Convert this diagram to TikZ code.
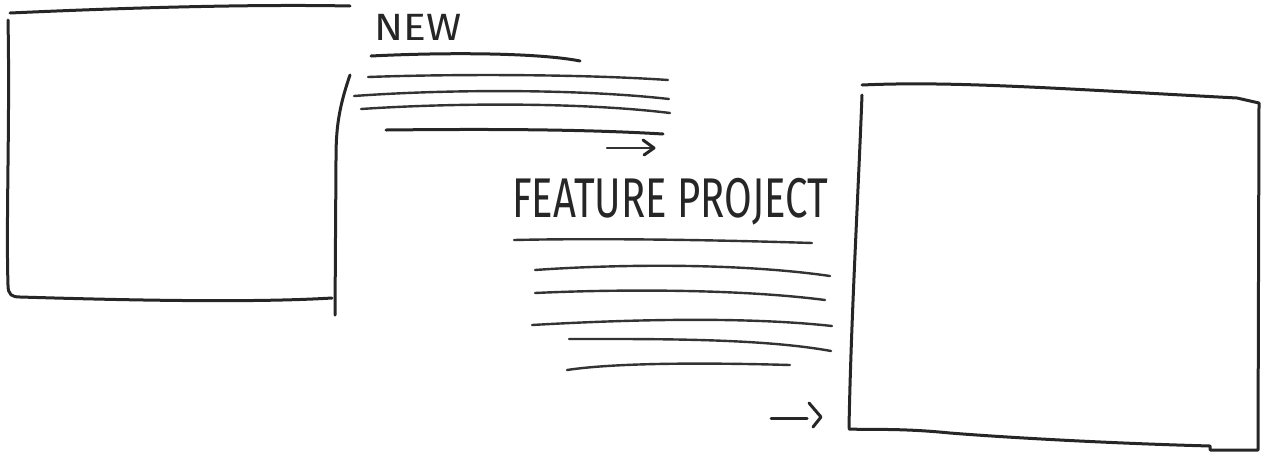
\documentclass[tikz,border=0pt]{standalone}
\usepackage{fontspec}
\setmainfont{Fira Sans}
\begin{document}
\begin{tikzpicture}[x=1pt,y=-1pt,
  pen/.style={line width=3pt,line cap=round,line join=round,black!85},
  thin pen/.style={line width=2.4pt,line cap=round,line join=round,black!80},
  hand/.style={inner sep=0pt,anchor=west,black!85}]
\useasboundingbox (0,0) rectangle (1261,456);
% left box
\draw[pen] (10,13) .. controls (120,8) and (250,4) .. (350,6);
\draw[pen] (8,20) .. controls (10,120) and (6,220) .. (8,285) .. controls (8,295) and (12,297) .. (20,297)
  .. controls (120,300) and (250,303) .. (332,298);
\draw[pen] (350,75) .. controls (338,110) and (336,130) .. (336,160) -- (335,315);
% right box
\draw[pen] (862,85) .. controls (950,81) and (1050,88) .. (1237,98) -- (1259,103) -- (1258,450)
  -- (1210,450) -- (1210,446) .. controls (1100,443) and (1000,437) .. (950,433) .. controls (900,428) and (870,430) .. (849,429);
\draw[pen] (862,95) .. controls (858,200) and (851,320) .. (849,428);
% NEW
\node[hand,font=\fontsize{38}{38}\selectfont,xscale=1.12] (new) at (374,27) {NEW};
\coordinate (u1a) at (371,56); \coordinate (u1b) at (580,61);
\draw[pen] (u1a) .. controls (450,52) and (540,53) .. (u1b);
\coordinate (l1a) at (368,77); \coordinate (l1b) at (668,80);
\draw[thin pen] (l1a) .. controls (450,74) and (580,74) .. (l1b);
\coordinate (l2a) at (354,96); \coordinate (l2b) at (669,99);
\draw[thin pen] (l2a) .. controls (450,89) and (580,89) .. (l2b);
\coordinate (l3a) at (361,109); \coordinate (l3b) at (670,113);
\draw[thin pen] (l3a) .. controls (450,103) and (580,102) .. (l3b);
\coordinate (l4a) at (386,130); \coordinate (l4b) at (663,134);
\draw[pen] (l4a) .. controls (480,129) and (580,129) .. (l4b);
% arrow 1
\coordinate (a1a) at (607,148); \coordinate (a1b) at (654,148);
\draw[thin pen] (a1a) -- (a1b);
\draw[pen] (643,140) -- (a1b) -- (644,155);
% FEATURE PROJECT
\node[hand,font=\fontsize{56}{56}\selectfont,xscale=0.715] (fp) at (512,202) {FEATURE PROJECT};
\coordinate (u2a) at (514,240); \coordinate (u2b) at (812,243);
\draw[thin pen] (u2a) .. controls (600,238) and (720,240) .. (u2b);
\coordinate (m1a) at (535,270); \coordinate (m1b) at (830,276);
\draw[thin pen] (m1a) .. controls (620,264) and (740,263) .. (m1b);
\coordinate (m2a) at (535,293); \coordinate (m2b) at (825,300);
\draw[thin pen] (m2a) .. controls (620,289) and (740,289) .. (m2b);
\coordinate (m3a) at (532,325); \coordinate (m3b) at (832,326);
\draw[thin pen] (m3a) .. controls (620,320) and (740,316) .. (m3b);
\coordinate (m4a) at (569,339); \coordinate (m4b) at (831,351);
\draw[thin pen] (m4a) .. controls (650,339) and (760,338) .. (m4b);
\coordinate (m5a) at (567,370); \coordinate (m5b) at (790,365);
\draw[thin pen] (m5a) .. controls (620,362) and (720,363) .. (m5b);
% arrow 2
\coordinate (a2a) at (771,418); \coordinate (a2b) at (821,417);
\draw[pen] (a2a) -- (807,418);
\draw[pen] (809,403) -- (a2b) -- (813,427);
\end{tikzpicture}
\end{document}
